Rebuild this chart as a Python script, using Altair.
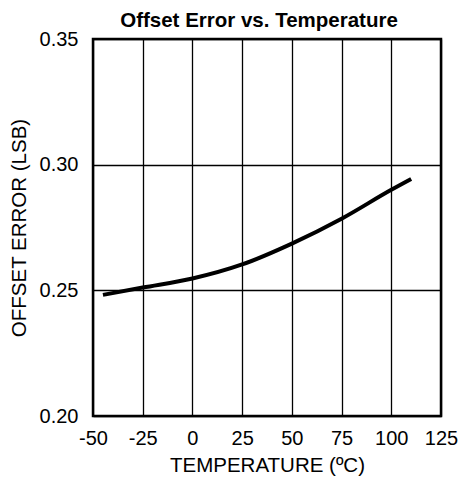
import altair as alt
import pandas as pd

temps = [-45, -25, 0, 25, 50, 75, 100, 110]
offset_err = [0.2482, 0.2511, 0.2547, 0.2603, 0.2686, 0.2785, 0.2900, 0.2943]
x_ticks = [-50, -25, 0, 25, 50, 75, 100, 125]
y_ticks = [0.20, 0.25, 0.30, 0.35]

df = pd.DataFrame({"t": temps, "e": offset_err})

FONT = "Liberation Sans"

chart = alt.Chart(df).mark_line(color="black", strokeWidth=4, interpolate="monotone").encode(
    x=alt.X("t:Q", scale=alt.Scale(domain=[-50, 125], nice=False),
            axis=alt.Axis(values=x_ticks, title="TEMPERATURE (ºC)",
                          labelExpr="'' + datum.value",
                          grid=True, gridColor="black", gridWidth=1.3, gridOpacity=1,
                          ticks=False, domain=False, labelPadding=12,
                          labelFontSize=20, titleFontSize=20.5, titleFontWeight="normal",
                          titlePadding=7, labelColor="black", titleColor="black",
                          labelFont=FONT, titleFont=FONT, labelFlush=False)),
    y=alt.Y("e:Q", scale=alt.Scale(domain=[0.20, 0.35], nice=False, zero=False),
            axis=alt.Axis(values=y_ticks, title="OFFSET ERROR (LSB)", format=".2f",
                          grid=True, gridColor="black", gridWidth=1.3, gridOpacity=1,
                          ticks=False, domain=False, labelPadding=15,
                          labelFontSize=20, titleFontSize=20.5, titleFontWeight="normal",
                          titlePadding=10, labelColor="black", titleColor="black",
                          labelFont=FONT, titleFont=FONT, labelFlush=False)),
).properties(
    width=348, height=377,
    title=alt.TitleParams("Offset Error vs. Temperature", font=FONT, fontSize=20.5,
                          fontWeight="bold", color="black", anchor="middle", dx=-8, dy=3,
                          offset=1),
    autosize=alt.AutoSizeParams(type="none"),
    padding={"left": 85, "top": 31, "right": 17, "bottom": 60},
).configure_view(stroke="black", strokeWidth=2.5)

chart.save("out.html", embed_options={"renderer": "svg", "actions": False})
